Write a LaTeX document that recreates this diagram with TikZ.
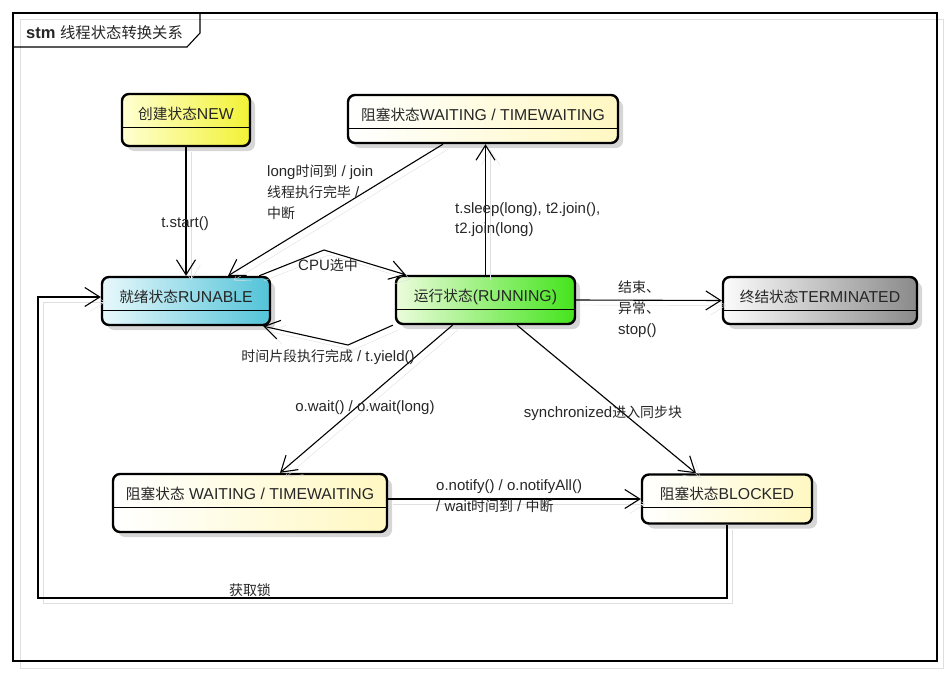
\documentclass[tikz,border=0pt]{standalone}
\usepackage{fontspec}
\setmainfont{Liberation Sans}
\newfontfamily\cjk[Scale=0.93]{Noto Sans CJK SC}
\usepackage{xcolor}
\usetikzlibrary{arrows.meta, shadows, calc}

\definecolor{newL}{HTML}{FFFFD2}
\definecolor{newR}{HTML}{F2F236}
\definecolor{runaL}{HTML}{E8F8FC}
\definecolor{runaR}{HTML}{52C3D8}
\definecolor{runL}{HTML}{ECFCDC}
\definecolor{runR}{HTML}{44E41C}
\definecolor{termL}{HTML}{FCFCFC}
\definecolor{termR}{HTML}{8A8A8A}
\definecolor{waitL}{HTML}{FFFFFF}
\definecolor{waitR}{HTML}{FFF8C2}

\begin{document}
\begin{tikzpicture}[x=1pt, y=-1pt, font=\fontsize{15}{21}\selectfont,
    every node/.style={text=black!85},
    state/.style={draw, line width=2.4pt, rounded corners=7pt,
        drop shadow={shadow xshift=5pt, shadow yshift=-5pt, fill=black, opacity=0.16},
        path picture={\draw[line width=1pt] ([yshift=-33pt]path picture bounding box.north west)
            -- ([yshift=-33pt]path picture bounding box.north east);}},
    statetext/.style={anchor=center, yshift=-22.5pt, text height=11pt, text depth=3pt,
        font=\fontsize{15.8}{19}\selectfont},
    trans/.style={draw, line width=1.1pt, -{Straight Barb[length=15pt, width=19pt]},
        preaction={draw=gray!25, transform canvas={xshift=5pt, yshift=-5pt}}},
    lbl/.style={inner sep=0pt}]
    \useasboundingbox (0,0) rectangle (949,674);

    % Frame
    \draw[gray!25, line width=1pt] (20,20) rectangle (943,668);
    \draw[line width=1.1pt] (13,13) rectangle (937,661);
    \draw[line width=1.1pt] (13,47) -- (187,47) -- (200,33) -- (200,13);
    \node[anchor=west, inner sep=0pt] (title) at (26,33)
        {\fontsize{16.5}{19}\selectfont\textbf{stm} {\cjk 线程状态转换关系}};

    % States
    \node[state, minimum width=128pt, minimum height=52pt, left color=newL, right color=newR,
        label={[statetext]north:{\cjk 创建状态}NEW}] (new) at (186,120) {};
    \node[state, minimum width=270pt, minimum height=48pt, left color=waitL, right color=waitR,
        label={[statetext]north:{\cjk 阻塞状态}WAITING / TIMEWAITING}] (waitTop) at (483,119) {};
    \node[state, minimum width=168pt, minimum height=48pt, left color=runaL, right color=runaR,
        label={[statetext]north:{\cjk 就绪状态}RUNABLE}] (runable) at (186,301) {};
    \node[state, minimum width=179pt, minimum height=48pt, left color=runL, right color=runR,
        label={[statetext]north:{\cjk 运行状态}(RUNNING)}] (running) at (485.5,300) {};
    \node[state, minimum width=194pt, minimum height=47pt, left color=termL, right color=termR,
        label={[statetext]north:{\cjk 终结状态}TERMINATED}] (term) at (820,300.5) {};
    \node[state, minimum width=274pt, minimum height=58pt, left color=waitL, right color=waitR,
        label={[statetext]north:{\cjk 阻塞状态} WAITING / TIMEWAITING}] (waitBot) at (250,503) {};
    \node[state, minimum width=170pt, minimum height=49pt, left color=waitL, right color=waitR,
        label={[statetext]north:{\cjk 阻塞状态}BLOCKED}] (blocked) at (727,499) {};

    % Bends
    \coordinate (cpuTop) at (324,250);
    \coordinate (yieldBot) at (348,345);
    \coordinate (lockL) at (38,598);

    % Transitions
    \draw[trans] (new.south) -- (runable.north);
    \draw[trans] ([xshift=-40pt]waitTop.south) -- ([xshift=42pt]runable.north);
    \draw[trans] (running.north) -- (running.north |- waitTop.south);
    \draw[trans] ([xshift=-12pt]runable.north east) -- (cpuTop) -- ([xshift=11pt]running.north west);
    \draw[trans] ([xshift=-2pt]running.south west) -- (yieldBot) -- ([xshift=-8pt]runable.south east);
    \draw[trans] (running.east) -- (term.west);
    \draw[trans] ([xshift=-33pt]running.south) -- ([xshift=30pt]waitBot.north);
    \draw[trans] ([xshift=31.5pt]running.south) -- ([xshift=-31pt]blocked.north);
    \draw[trans] (blocked.west -| waitBot.east) -- (blocked.west);
    \draw[trans] (blocked.south) |- (lockL) |- ([yshift=4pt]runable.west);

    % Labels
    \node[lbl] (lblStart) at (185,224) {t.start()};
    \node[lbl, anchor=west, align=left] (lblJoin) at (267,192)
        {long{\cjk 时间到} / join\\{\cjk 线程执行完毕} /\\{\cjk 中断}};
    \node[lbl, anchor=west, align=left, font=\fontsize{15}{20}\selectfont] (lblSleep) at (455,220)
        {t.sleep(long), t2.join(),\\t2.join(long)};
    \node[lbl] (lblCpu) at (328,265) {CPU{\cjk 选中}};
    \node[lbl] (lblYield) at (328,357) {{\cjk 时间片段执行完成} / t.yield()};
    \node[lbl, anchor=west, align=left] (lblEnd) at (618,309)
        {{\cjk 结束、}\\{\cjk 异常、}\\stop()};
    \node[lbl] (lblWait) at (365,408) {o.wait() / o.wait(long)};
    \node[lbl] (lblSync) at (603,413) {synchronized{\cjk 进入同步块}};
    \node[lbl, anchor=west, align=left] (lblNotify) at (436,496.5)
        {o.notify() / o.notifyAll()\\/ wait{\cjk 时间到} / {\cjk 中断}};
    \node[lbl] (lblLock) at (250,590) {{\cjk 获取锁}};
\end{tikzpicture}
\end{document}
